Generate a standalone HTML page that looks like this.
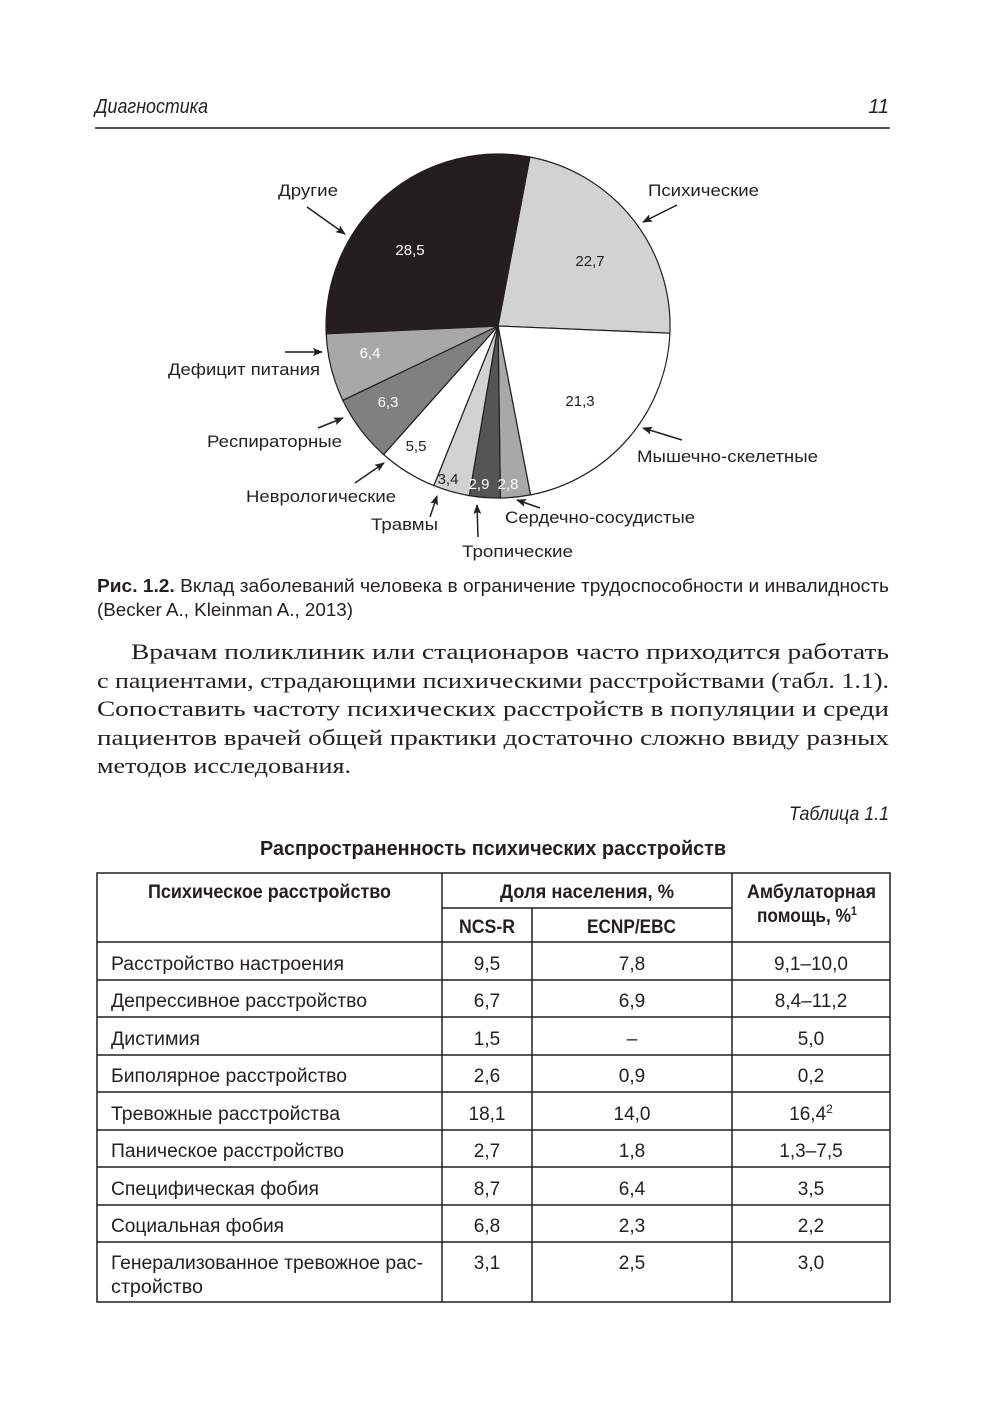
<!DOCTYPE html>
<html><head><meta charset="utf-8"><style>html,body{margin:0;padding:0;background:#fff}svg{display:block}</style></head>
<body>
<svg width="1000" height="1420" viewBox="0 0 1000 1420" xmlns="http://www.w3.org/2000/svg" font-family="Liberation Sans, sans-serif" fill="#231f20">
<defs><marker id="ah" markerWidth="10" markerHeight="8" refX="9" refY="4" orient="auto" markerUnits="userSpaceOnUse"><path d="M0,0 L10,4 L0,8 L2,4 z" fill="#231f20"/></marker></defs>
<text x="95" y="113" font-size="20" font-style="italic" textLength="113" lengthAdjust="spacingAndGlyphs">Диагностика</text>
<text x="889" y="113" font-size="20" font-style="italic" text-anchor="end">11</text>
<line x1="95" y1="128" x2="890" y2="128" stroke="#231f20" stroke-width="1.5"/>
<g stroke="#231f20" stroke-width="1.2">
<path d="M498,326 L529.9,157 A172,172 0 0 1 669.9,333.2 Z" fill="#d2d2d2"/>
<path d="M498,326 L669.9,333.2 A172,172 0 0 1 530.5,494.9 Z" fill="#fff"/>
<path d="M498,326 L530.5,494.9 A172,172 0 0 1 500.4,498 Z" fill="#a8a8a8"/>
<path d="M498,326 L500.4,498 A172,172 0 0 1 469.3,495.6 Z" fill="#555"/>
<path d="M498,326 L469.3,495.6 A172,172 0 0 1 433.8,485.6 Z" fill="#d2d2d2"/>
<path d="M498,326 L433.8,485.6 A172,172 0 0 1 383.6,454.5 Z" fill="#fff"/>
<path d="M498,326 L383.6,454.5 A172,172 0 0 1 342.8,400.3 Z" fill="#808080"/>
<path d="M498,326 L342.8,400.3 A172,172 0 0 1 326.2,333.8 Z" fill="#a8a8a8"/>
<path d="M498,326 L326.2,333.8 A172,172 0 0 1 529.9,157 Z" fill="#231f20"/>
</g>
<g font-size="15" text-anchor="middle">
<text x="410" y="255" fill="#fff">28,5</text>
<text x="590" y="266">22,7</text>
<text x="580" y="406">21,3</text>
<text x="370" y="358" fill="#fff">6,4</text>
<text x="388" y="407" fill="#fff">6,3</text>
<text x="416" y="451">5,5</text>
<text x="448" y="484">3,4</text>
<text x="479" y="489" fill="#fff">2,9</text>
<text x="508" y="489" fill="#fff">2,8</text>
</g>
<g font-size="17" lengthAdjust="spacingAndGlyphs">
<text x="278" y="196" textLength="60" lengthAdjust="spacingAndGlyphs">Другие</text>
<text x="648" y="196" textLength="111" lengthAdjust="spacingAndGlyphs">Психические</text>
<text x="168" y="375" textLength="152" lengthAdjust="spacingAndGlyphs">Дефицит питания</text>
<text x="207" y="447" textLength="135" lengthAdjust="spacingAndGlyphs">Респираторные</text>
<text x="246" y="502" textLength="150" lengthAdjust="spacingAndGlyphs">Неврологические</text>
<text x="371" y="530" textLength="67" lengthAdjust="spacingAndGlyphs">Травмы</text>
<text x="462" y="557" textLength="111" lengthAdjust="spacingAndGlyphs">Тропические</text>
<text x="505" y="523" textLength="190" lengthAdjust="spacingAndGlyphs">Сердечно-сосудистые</text>
<text x="637" y="462" textLength="181" lengthAdjust="spacingAndGlyphs">Мышечно-скелетные</text>
</g>
<g stroke="#231f20" stroke-width="1.5" marker-end="url(#ah)">
<line x1="307" y1="207" x2="345" y2="234"/>
<line x1="677" y1="205" x2="643" y2="222"/>
<line x1="285" y1="352" x2="322" y2="352"/>
<line x1="318" y1="428" x2="343" y2="418"/>
<line x1="355" y1="483" x2="384" y2="463"/>
<line x1="430" y1="517" x2="437" y2="496"/>
<line x1="478" y1="537" x2="477" y2="505"/>
<line x1="540" y1="508" x2="517" y2="500"/>
<line x1="682" y1="440" x2="643" y2="428"/>
</g>
<text x="97" y="592" font-size="18" textLength="792" lengthAdjust="spacingAndGlyphs"><tspan font-weight="bold">Рис. 1.2.</tspan> Вклад заболеваний человека в ограничение трудоспособности и инвалидность</text>
<text x="97" y="616" font-size="18" textLength="256" lengthAdjust="spacingAndGlyphs">(Becker A., Kleinman A., 2013)</text>
<g font-family="Liberation Serif, serif" font-size="22">
<text x="131" y="659" textLength="758" lengthAdjust="spacingAndGlyphs">Врачам поликлиник или стационаров часто приходится работать</text>
<text x="97" y="688" textLength="792" lengthAdjust="spacingAndGlyphs">с пациентами, страдающими психическими расстройствами (табл. 1.1).</text>
<text x="97" y="716" textLength="792" lengthAdjust="spacingAndGlyphs">Сопоставить частоту психических расстройств в популяции и среди</text>
<text x="97" y="745" textLength="792" lengthAdjust="spacingAndGlyphs">пациентов врачей общей практики достаточно сложно ввиду разных</text>
<text x="97" y="773" textLength="254" lengthAdjust="spacingAndGlyphs">методов исследования.</text>
</g>
<text x="889" y="820" font-size="19" font-style="italic" text-anchor="end" textLength="100" lengthAdjust="spacingAndGlyphs">Таблица 1.1</text>
<text x="260" y="855" font-size="20" font-weight="bold" textLength="466" lengthAdjust="spacingAndGlyphs">Распространенность психических расстройств</text>
<g stroke="#231f20" stroke-width="1.5" fill="none">
<rect x="97" y="873" width="793" height="429"/>
<line x1="442" y1="873" x2="442" y2="1302"/>
<line x1="532" y1="908" x2="532" y2="1302"/>
<line x1="732" y1="873" x2="732" y2="1302"/>
<line x1="442" y1="908" x2="732" y2="908"/>
<line x1="97" y1="942" x2="890" y2="942"/>
<line x1="97" y1="980" x2="890" y2="980"/>
<line x1="97" y1="1017" x2="890" y2="1017"/>
<line x1="97" y1="1055" x2="890" y2="1055"/>
<line x1="97" y1="1092" x2="890" y2="1092"/>
<line x1="97" y1="1130" x2="890" y2="1130"/>
<line x1="97" y1="1167" x2="890" y2="1167"/>
<line x1="97" y1="1205" x2="890" y2="1205"/>
<line x1="97" y1="1242" x2="890" y2="1242"/>
</g>
<g font-size="19" font-weight="bold">
<text x="148" y="898" textLength="243" lengthAdjust="spacingAndGlyphs">Психическое расстройство</text>
<text x="500" y="898" textLength="174" lengthAdjust="spacingAndGlyphs">Доля населения, %</text>
<text x="459" y="933" textLength="56" lengthAdjust="spacingAndGlyphs">NCS-R</text>
<text x="587" y="933" textLength="89" lengthAdjust="spacingAndGlyphs">ECNP/EBC</text>
<text x="747" y="898" textLength="129" lengthAdjust="spacingAndGlyphs">Амбулаторная</text>
<text x="757" y="922" textLength="100" lengthAdjust="spacingAndGlyphs">помощь, %<tspan font-size="12" dy="-7">1</tspan></text>
</g>
<g font-size="19">
<g text-anchor="start">
<text x="111" y="970" textLength="233" lengthAdjust="spacingAndGlyphs">Расстройство настроения</text>
<text x="111" y="1007" textLength="256" lengthAdjust="spacingAndGlyphs">Депрессивное расстройство</text>
<text x="111" y="1045" textLength="89" lengthAdjust="spacingAndGlyphs">Дистимия</text>
<text x="111" y="1082" textLength="236" lengthAdjust="spacingAndGlyphs">Биполярное расстройство</text>
<text x="111" y="1120" textLength="229" lengthAdjust="spacingAndGlyphs">Тревожные расстройства</text>
<text x="111" y="1157" textLength="233" lengthAdjust="spacingAndGlyphs">Паническое расстройство</text>
<text x="111" y="1195" textLength="208" lengthAdjust="spacingAndGlyphs">Специфическая фобия</text>
<text x="111" y="1232" textLength="173" lengthAdjust="spacingAndGlyphs">Социальная фобия</text>
<text x="111" y="1269" textLength="312" lengthAdjust="spacingAndGlyphs">Генерализованное тревожное рас-</text>
<text x="111" y="1293" textLength="92" lengthAdjust="spacingAndGlyphs">стройство</text>
</g>
<g text-anchor="middle">
<text x="487" y="970">9,5</text><text x="632" y="970">7,8</text><text x="811" y="970">9,1–10,0</text>
<text x="487" y="1007">6,7</text><text x="632" y="1007">6,9</text><text x="811" y="1007">8,4–11,2</text>
<text x="487" y="1045">1,5</text><text x="632" y="1045">–</text><text x="811" y="1045">5,0</text>
<text x="487" y="1082">2,6</text><text x="632" y="1082">0,9</text><text x="811" y="1082">0,2</text>
<text x="487" y="1120">18,1</text><text x="632" y="1120">14,0</text><text x="811" y="1120">16,4<tspan font-size="12" dy="-7">2</tspan></text>
<text x="487" y="1157">2,7</text><text x="632" y="1157">1,8</text><text x="811" y="1157">1,3–7,5</text>
<text x="487" y="1195">8,7</text><text x="632" y="1195">6,4</text><text x="811" y="1195">3,5</text>
<text x="487" y="1232">6,8</text><text x="632" y="1232">2,3</text><text x="811" y="1232">2,2</text>
<text x="487" y="1269">3,1</text><text x="632" y="1269">2,5</text><text x="811" y="1269">3,0</text>
</g>
</g>
</svg>
</body></html>
